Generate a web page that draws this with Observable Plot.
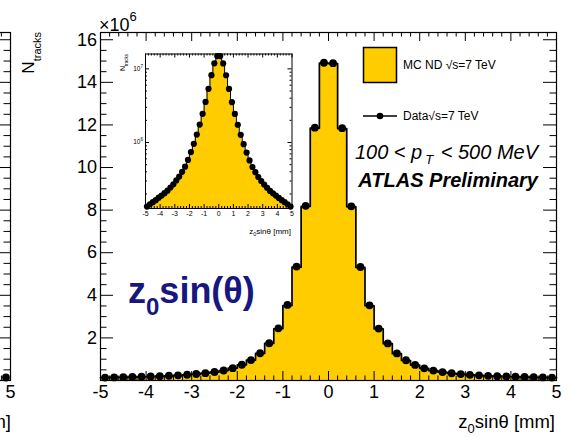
<!DOCTYPE html>
<html><head><meta charset="utf-8">
<script src="https://cdn.jsdelivr.net/npm/d3@7"></script>
<script src="https://cdn.jsdelivr.net/npm/@observablehq/plot@0.6"></script>
<style>
body{margin:0;background:#fff;}
#wrap{position:relative;width:582px;height:438px;overflow:hidden;background:#fff;}
#wrap svg{position:absolute;overflow:visible;background:transparent;}
</style></head><body><div id="wrap"></div>
<script>
// ---- data (tracks in units of 10^6) ----
const binWidth = 0.2;
const binCenters = [-4.9,-4.7,-4.5,-4.3,-4.1,-3.9,-3.7,-3.5,-3.3,-3.1,-2.9,-2.7,-2.5,-2.3,-2.1,-1.9,-1.7,-1.5,-1.3,-1.1,-0.9,-0.7,-0.5,-0.3,-0.1,
  0.1,0.3,0.5,0.7,0.9,1.1,1.3,1.5,1.7,1.9,2.1,2.3,2.5,2.7,2.9,3.1,3.3,3.5,3.7,3.9,4.1,4.3,4.5,4.7,4.9];
const dataValues = [0.135,0.145,0.155,0.165,0.178,0.19,0.205,0.222,0.245,0.27,0.305,0.345,0.40,0.47,0.58,0.74,0.96,1.28,1.75,2.45,3.55,5.35,8.2,11.87,14.92,
  14.9,11.85,8.18,5.33,3.53,2.44,1.74,1.27,0.95,0.73,0.57,0.465,0.395,0.34,0.30,0.268,0.243,0.22,0.204,0.19,0.177,0.165,0.155,0.145,0.135];
const mcValues = [0.133,0.143,0.153,0.163,0.176,0.188,0.203,0.22,0.243,0.268,0.302,0.342,0.397,0.467,0.577,0.737,0.957,1.27,1.74,2.43,3.52,5.32,8.18,11.85,14.9,
  14.88,11.83,8.16,5.31,3.51,2.42,1.73,1.26,0.94,0.725,0.565,0.46,0.39,0.336,0.297,0.265,0.24,0.218,0.202,0.188,0.175,0.163,0.153,0.143,0.133];
const xMajorTicks = [-5,-4,-3,-2,-1,0,1,2,3,4,5];
const yMajorTicks = [2,4,6,8,10,12,14,16];
const insetYTicks = [1e6,1e7];
// left neighbouring panel: only its last bin is visible
const leftCenters = [4.9];
const leftValues = [0.14];

const FONT = "Liberation Sans, Arial, Helvetica, sans-serif";
const GOLD = "#ffcc00";
const W = 582, H = 438, mL = 100, mR = 26, mT = 32, mB = 58;
const fW = W - mL - mR, fH = H - mT - mB;
const yMax = 16.34;

const xMinor = d3.range(-50, 51, 2).map(v => v / 10).filter(v => Math.abs(v - Math.round(v)) > 1e-6);
const yMinor = d3.range(0, yMax, 0.5).filter(v => v % 2 !== 0);

const edges = binCenters.map(c => +(c - binWidth / 2).toFixed(2)).concat([+(binCenters[binCenters.length - 1] + binWidth / 2).toFixed(2)]);
const outline = edges.map((e, i) => ({x: e, y: mcValues[Math.min(i, mcValues.length - 1)]}));
const points = binCenters.map((c, i) => ({x: c, y: dataValues[i]}));

function frameTicks(xMaj, xMin, yMaj, yMin, fw, fh, lx, sx, ly, sy, sides) {
  const m = [];
  if (sides.includes("b")) { m.push(Plot.ruleX(xMaj, {insetTop: fh - lx, stroke: "black"})); m.push(Plot.ruleX(xMin, {insetTop: fh - sx, stroke: "black"})); }
  if (sides.includes("t")) { m.push(Plot.ruleX(xMaj, {insetBottom: fh - lx, stroke: "black"})); m.push(Plot.ruleX(xMin, {insetBottom: fh - sx, stroke: "black"})); }
  if (sides.includes("l")) { m.push(Plot.ruleY(yMaj, {insetRight: fw - ly, stroke: "black"})); m.push(Plot.ruleY(yMin, {insetRight: fw - sy, stroke: "black"})); }
  if (sides.includes("r")) { m.push(Plot.ruleY(yMaj, {insetLeft: fw - ly, stroke: "black"})); m.push(Plot.ruleY(yMin, {insetLeft: fw - sy, stroke: "black"})); }
  return m;
}

// ---- main plot ----
const mainSvg = Plot.plot({
  width: W, height: H, marginLeft: mL, marginRight: mR, marginTop: mT, marginBottom: mB,
  style: {fontFamily: FONT, background: "transparent", overflow: "visible"},
  x: {domain: [-5, 5], axis: null},
  y: {domain: [0, yMax], axis: null},
  marks: [
    Plot.areaY(outline, {x: "x", y: "y", curve: "step-after", fill: GOLD}),
    Plot.lineY(outline, {x: "x", y: "y", curve: "step-after", stroke: "black", strokeWidth: 1.7}),
    Plot.dot(points, {x: "x", y: "y", r: 3.9, fill: "black", stroke: "none"}),
    ...frameTicks(xMajorTicks, xMinor, yMajorTicks, yMinor, fW, fH, 9, 4.5, 13, 6.5, "btlr"),
    Plot.frame({stroke: "black", strokeWidth: 1.2}),
    Plot.axisX(xMajorTicks, {tickSize: 0, tickPadding: 5, fontSize: 18, tickFormat: d => String(d), label: null, fill: "black"}),
    Plot.axisY(yMajorTicks, {tickSize: 0, tickPadding: 3.5, fontSize: 18, tickFormat: d => String(d), label: null, fill: "black"})
  ]
});

// ---- left neighbouring panel (mostly off-page) ----
const leftSvg = Plot.plot({
  width: W, height: H, marginLeft: mL, marginRight: mR, marginTop: mT, marginBottom: mB,
  style: {fontFamily: FONT, background: "transparent", overflow: "visible"},
  x: {domain: [-5, 5], axis: null},
  y: {domain: [0, yMax], axis: null},
  marks: [
    Plot.dot(leftCenters.map((c, i) => ({x: c, y: leftValues[i]})), {x: "x", y: "y", r: 3.9, fill: "black"}),
    ...frameTicks(xMajorTicks, xMinor, yMajorTicks, yMinor, fW, fH, 9, 4.5, 13, 6.5, "btlr"),
    Plot.frame({stroke: "black", strokeWidth: 1.2}),
    Plot.axisX([5], {tickSize: 0, tickPadding: 5, fontSize: 18, tickFormat: d => String(d), label: null, fill: "black"})
  ]
});
leftSvg.style.left = (10 - (W - mR)) + "px";
leftSvg.style.top = "0px";

// ---- inset (log scale) ----
const iX = 110, iY = 44, iW = 190, iH = 200, imL = 35, imR = 8.5, imT = 9.5, imB = 36;
const ifW = iW - imL - imR, ifH = iH - imT - imB;
const insetYMin = 1.27e5, insetYMax = 1.59e7;
const insetOutline = outline.map(d => ({x: d.x, y: d.y * 1e6}));
const insetPoints = points.map(d => ({x: d.x, y: d.y * 1e6}));
const logMinor = [2e5,3e5,4e5,5e5,6e5,7e5,8e5,9e5,2e6,3e6,4e6,5e6,6e6,7e6,8e6,9e6];
const insetSvg = Plot.plot({
  width: iW, height: iH, marginLeft: imL, marginRight: imR, marginTop: imT, marginBottom: imB,
  style: {fontFamily: FONT, background: "transparent", overflow: "visible"},
  x: {domain: [-5, 5], axis: null},
  y: {type: "log", domain: [insetYMin, insetYMax], axis: null},
  marks: [
    Plot.areaY(insetOutline, {x: "x", y1: insetYMin, y2: "y", curve: "step-after", fill: GOLD}),
    Plot.lineY(insetOutline, {x: "x", y: "y", curve: "step-after", stroke: "black", strokeWidth: 1}),
    Plot.dot(insetPoints, {x: "x", y: "y", r: 3.1, fill: "black", stroke: "none"}),
    ...frameTicks(xMajorTicks, xMinor, insetYTicks, logMinor, ifW, ifH, 4, 2, 4, 2, "btlr"),
    Plot.frame({stroke: "black", strokeWidth: 1}),
    Plot.axisX(xMajorTicks, {tickSize: 0, tickPadding: 3, fontSize: 7, tickFormat: d => String(d), label: null, fill: "black"})
  ]
});
insetSvg.style.left = iX + "px";
insetSvg.style.top = iY + "px";

mainSvg.style.left = "0px";
mainSvg.style.top = "0px";
const wrap = document.getElementById("wrap");
wrap.append(leftSvg, mainSvg, insetSvg);

// ---- annotations ----
const s = d3.select(mainSvg).append("g").attr("font-family", FONT).attr("fill", "black").attr("text-anchor", "start");
// x10^6
const t1 = s.append("text").attr("x", 99).attr("y", 31).attr("font-size", 18).text("\u00d710");
t1.append("tspan").attr("font-size", 13).attr("dy", -10).text("6");
// y title
const yt = s.append("text").attr("transform", "translate(34,32) rotate(-90)").attr("text-anchor", "end").attr("font-size", 17);
yt.append("tspan").text("N");
yt.append("tspan").attr("font-size", 11).attr("dy", 7).text("tracks");
// x title
const xt = s.append("text").attr("x", 555).attr("y", 428).attr("text-anchor", "end").attr("font-size", 18.5);
xt.append("tspan").text("z");
xt.append("tspan").attr("font-size", 13).attr("dy", 5).text("0");
xt.append("tspan").attr("dy", -5).text("sin\u03b8 [mm]");
// big label
const bl = s.append("text").attr("x", 128).attr("y", 303).attr("font-size", 36).attr("font-weight", "bold").attr("fill", "#17177f");
bl.append("tspan").text("z");
bl.append("tspan").attr("font-size", 24).attr("dy", 12).text("0");
bl.append("tspan").attr("dy", -12).text("sin(\u03b8)");
// pT range
const pt = s.append("text").attr("x", 538).attr("y", 159).attr("text-anchor", "end").attr("font-size", 20).attr("font-style", "italic");
pt.append("tspan").text("100 < p");
pt.append("tspan").attr("font-size", 13).attr("dy", 5).attr("dx", 3).text("T");
pt.append("tspan").attr("dy", -5).attr("dx", 2).text(" < 500 MeV");
// ATLAS
s.append("text").attr("x", 538).attr("y", 187).attr("text-anchor", "end").attr("font-size", 20)
  .attr("font-weight", "bold").attr("font-style", "italic").text("ATLAS Preliminary");
// legend
s.append("rect").attr("x", 363.5).attr("y", 47.5).attr("width", 33).attr("height", 35).attr("fill", GOLD).attr("stroke", "black").attr("stroke-width", 1.5);
s.append("text").attr("x", 403).attr("y", 69).attr("font-size", 12).text("MC ND \u221as=7 TeV");
s.append("line").attr("x1", 363).attr("x2", 397).attr("y1", 116).attr("y2", 116).attr("stroke", "black").attr("stroke-width", 1.5);
s.append("circle").attr("cx", 380).attr("cy", 116).attr("r", 3.3).attr("fill", "black");
s.append("text").attr("x", 403).attr("y", 120).attr("font-size", 12).text("Data\u221as=7 TeV");

// inset titles and log labels
const si = d3.select(insetSvg).append("g").attr("font-family", FONT).attr("fill", "black").attr("text-anchor", "start");
const iyt = si.append("text").attr("transform", `translate(${125 - iX},${54 - iY}) rotate(-90)`).attr("text-anchor", "end").attr("font-size", 7);
iyt.append("tspan").text("N");
iyt.append("tspan").attr("font-size", 4.5).attr("dy", 2.5).text("tracks");
const ixt = si.append("text").attr("x", 291 - iX).attr("y", 234 - iY).attr("text-anchor", "end").attr("font-size", 8);
ixt.append("tspan").text("z");
ixt.append("tspan").attr("font-size", 5.5).attr("dy", 2).text("0");
ixt.append("tspan").attr("dy", -2).text("sin\u03b8 [mm]");
// log-axis labels placed through the inset's own y scale
const iyScale = insetSvg.scale("y");
insetYTicks.forEach(v => {
  const lt = si.append("text").attr("x", imL - 2).attr("y", iyScale.apply(v) + 2.5).attr("text-anchor", "end").attr("font-size", 6.5);
  lt.append("tspan").text("10");
  lt.append("tspan").attr("font-size", 4.5).attr("dy", -3).text(String(Math.round(Math.log10(v))));
});

// left panel x title fragment
d3.select(leftSvg).append("text").attr("font-family", FONT).attr("x", 557).attr("y", 428)
  .attr("text-anchor", "end").attr("font-size", 18.5).text("[mm]");
</script></body></html>
